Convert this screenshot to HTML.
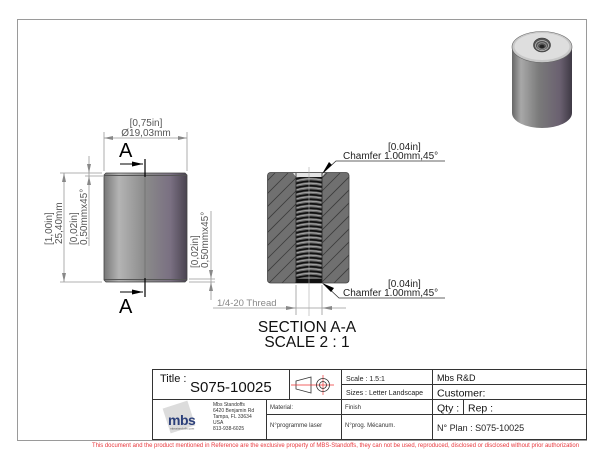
<!DOCTYPE html>
<html><head><meta charset="utf-8"><style>
html,body{margin:0;padding:0;background:#fff;width:600px;height:463px;overflow:hidden}
svg{display:block}
text{font-family:"Liberation Sans",sans-serif}
</style></head><body>
<svg width="600" height="463" viewBox="0 0 600 463" xmlns="http://www.w3.org/2000/svg">
<defs>
<linearGradient id="body" x1="0" y1="0" x2="1" y2="0">
<stop offset="0" stop-color="#777"/>
<stop offset="0.18" stop-color="#b4b4b4"/>
<stop offset="0.5" stop-color="#8a8a8a"/>
<stop offset="0.8" stop-color="#7a7082"/>
<stop offset="1" stop-color="#4a4450"/>
</linearGradient>
<linearGradient id="body3" x1="0" y1="0" x2="1" y2="0">
<stop offset="0" stop-color="#666"/>
<stop offset="0.15" stop-color="#a8a8a8"/>
<stop offset="0.45" stop-color="#7a7a7a"/>
<stop offset="0.8" stop-color="#6a6070"/>
<stop offset="1" stop-color="#3e3944"/>
</linearGradient>
<clipPath id="sec"><rect x="267.5" y="172.5" width="81.5" height="110.5" rx="3"/></clipPath>
</defs>

<rect x="17.5" y="19.5" width="569" height="421" fill="none" stroke="#9a9a9a" stroke-width="1"/>

<path d="M106,173 L185,173 L187,175 L187,280 L185,282 L106,282 L104,280 L104,175 Z" fill="url(#body)" stroke="#444" stroke-width="0.8"/>
<line x1="104.5" y1="175.5" x2="186.5" y2="175.5" stroke="#555" stroke-width="1"/>
<line x1="104.5" y1="279.5" x2="186.5" y2="279.5" stroke="#555" stroke-width="1"/>
<line x1="145" y1="176" x2="145" y2="279" stroke="#666" stroke-width="0.6"/>
<line x1="145" y1="159" x2="145" y2="177" stroke="#000" stroke-width="1.2"/>
<line x1="145" y1="278" x2="145" y2="297" stroke="#000" stroke-width="1.2"/>
<line x1="120" y1="164" x2="143" y2="164" stroke="#000" stroke-width="1"/>
<polygon points="143,164 132,161.5 132,166.5" fill="#000"/>
<line x1="120" y1="292" x2="143" y2="292" stroke="#000" stroke-width="1"/>
<polygon points="143,292 132,289.5 132,294.5" fill="#000"/>
<text x="119" y="157" font-size="20" fill="#000">A</text>
<text x="119" y="313" font-size="20" fill="#000">A</text>

<g stroke="#999" stroke-width="0.8" fill="none">
<line x1="104" y1="132" x2="104" y2="171"/>
<line x1="187" y1="132" x2="187" y2="171"/>
<line x1="104" y1="138" x2="187" y2="138"/>
<line x1="60" y1="173" x2="102" y2="173"/>
<line x1="60" y1="282" x2="102" y2="282"/>
<line x1="64" y1="173" x2="64" y2="282"/>
<line x1="85" y1="176" x2="103" y2="176"/>
<line x1="89" y1="156" x2="89" y2="246"/>
<line x1="189" y1="279" x2="215" y2="279"/>
<line x1="189" y1="282" x2="215" y2="282"/>
<line x1="211" y1="211" x2="211" y2="300"/>
<line x1="213" y1="308" x2="346" y2="308"/>
<line x1="296" y1="285" x2="296" y2="315"/>
<line x1="322" y1="285" x2="322" y2="315"/>
</g>
<g fill="#888">
<polygon points="104,138 113,136 113,140"/>
<polygon points="187,138 178,136 178,140"/>
<polygon points="64,173 62,182 66,182"/>
<polygon points="64,282 62,273 66,273"/>
<polygon points="89,173 87,164 91,164"/>
<polygon points="89,176 87,185 91,185"/>
<polygon points="211,279 209,270 213,270"/>
<polygon points="211,282 209,291 213,291"/>
<polygon points="296,308 286,306 286,310"/>
<polygon points="322,308 332,306 332,310"/>
</g>
<g fill="#555" font-size="10">
<text x="146" y="126" text-anchor="middle">[0,75in]</text>
<text x="146" y="136" text-anchor="middle">Ø19,03mm</text>
<text transform="translate(52,245) rotate(-90)">[1,00in]</text>
<text transform="translate(62,244) rotate(-90)">25,40mm</text>
<text transform="translate(77,245) rotate(-90)">[0,02in]</text>
<text transform="translate(87,245) rotate(-90)">0,50mmx45°</text>
<text transform="translate(198,268) rotate(-90)">[0,02in]</text>
<text transform="translate(208,268) rotate(-90)">0,50mmx45°</text>
</g>
<text x="217" y="306" font-size="9.5" fill="#888">1/4-20 Thread</text>

<rect x="267.5" y="172.5" width="81.5" height="110.5" rx="3" fill="#707070"/>
<g clip-path="url(#sec)" stroke="#3c3c3c" stroke-width="0.8">
<line x1="150" y1="285" x2="262" y2="173"/>
<line x1="163" y1="285" x2="275" y2="173"/>
<line x1="176" y1="285" x2="288" y2="173"/>
<line x1="189" y1="285" x2="301" y2="173"/>
<line x1="202" y1="285" x2="314" y2="173"/>
<line x1="215" y1="285" x2="327" y2="173"/>
<line x1="228" y1="285" x2="340" y2="173"/>
<line x1="241" y1="285" x2="353" y2="173"/>
<line x1="254" y1="285" x2="366" y2="173"/>
<line x1="267" y1="285" x2="379" y2="173"/>
<line x1="280" y1="285" x2="392" y2="173"/>
<line x1="293" y1="285" x2="405" y2="173"/>
<line x1="306" y1="285" x2="418" y2="173"/>
<line x1="319" y1="285" x2="431" y2="173"/>
<line x1="332" y1="285" x2="444" y2="173"/>
<line x1="345" y1="285" x2="457" y2="173"/>
</g>
<rect x="267.5" y="172.5" width="81.5" height="110.5" rx="3" fill="none" stroke="#444" stroke-width="0.8"/>
<rect x="296" y="173" width="26" height="110" fill="#6a6a6a"/>
<g stroke="#b0b0b0" stroke-width="0.8" fill="none">
<path d="M296,181 Q309,177 322,180"/>
<path d="M296,185.5 Q309,181.5 322,184.5"/>
<path d="M296,190 Q309,186 322,189"/>
<path d="M296,194.5 Q309,190.5 322,193.5"/>
<path d="M296,199 Q309,195 322,198"/>
<path d="M296,203.5 Q309,199.5 322,202.5"/>
<path d="M296,208 Q309,204 322,207"/>
<path d="M296,212.5 Q309,208.5 322,211.5"/>
<path d="M296,217 Q309,213 322,216"/>
<path d="M296,221.5 Q309,217.5 322,220.5"/>
<path d="M296,226 Q309,222 322,225"/>
<path d="M296,230.5 Q309,226.5 322,229.5"/>
<path d="M296,235 Q309,231 322,234"/>
<path d="M296,239.5 Q309,235.5 322,238.5"/>
<path d="M296,244 Q309,240 322,243"/>
<path d="M296,248.5 Q309,244.5 322,247.5"/>
<path d="M296,253 Q309,249 322,252"/>
<path d="M296,257.5 Q309,253.5 322,256.5"/>
<path d="M296,262 Q309,258 322,261"/>
<path d="M296,266.5 Q309,262.5 322,265.5"/>
<path d="M296,271 Q309,267 322,270"/>
<path d="M296,275.5 Q309,271.5 322,274.5"/>
</g>
<g stroke="#111" stroke-width="1.8" fill="none">
<path d="M296,179 Q309,175 322,178"/>
<path d="M296,183.5 Q309,179.5 322,182.5"/>
<path d="M296,188 Q309,184 322,187"/>
<path d="M296,192.5 Q309,188.5 322,191.5"/>
<path d="M296,197 Q309,193 322,196"/>
<path d="M296,201.5 Q309,197.5 322,200.5"/>
<path d="M296,206 Q309,202 322,205"/>
<path d="M296,210.5 Q309,206.5 322,209.5"/>
<path d="M296,215 Q309,211 322,214"/>
<path d="M296,219.5 Q309,215.5 322,218.5"/>
<path d="M296,224 Q309,220 322,223"/>
<path d="M296,228.5 Q309,224.5 322,227.5"/>
<path d="M296,233 Q309,229 322,232"/>
<path d="M296,237.5 Q309,233.5 322,236.5"/>
<path d="M296,242 Q309,238 322,241"/>
<path d="M296,246.5 Q309,242.5 322,245.5"/>
<path d="M296,251 Q309,247 322,250"/>
<path d="M296,255.5 Q309,251.5 322,254.5"/>
<path d="M296,260 Q309,256 322,259"/>
<path d="M296,264.5 Q309,260.5 322,263.5"/>
<path d="M296,269 Q309,265 322,268"/>
<path d="M296,273.5 Q309,269.5 322,272.5"/>
<path d="M296,278 Q309,274 322,277"/>
</g>
<polygon points="293,173 325,173 322,177 296,177" fill="#e4e4e4"/>
<rect x="296" y="279" width="26" height="4" fill="#111"/>
<line x1="296" y1="173" x2="296" y2="283" stroke="#222" stroke-width="0.8"/>
<line x1="322" y1="173" x2="322" y2="283" stroke="#222" stroke-width="0.8"/>
<line x1="309" y1="167" x2="309" y2="316" stroke="#aaa" stroke-width="0.6"/>

<g stroke="#333" stroke-width="0.8" fill="none">
<polyline points="324,172 336,161 445,161"/>
<polyline points="324,284 339,298 445,298"/>
</g>
<polygon points="322,174 332,165 329,162" fill="#000"/>
<polygon points="322,283 331,292 334,288" fill="#000"/>
<g fill="#222" font-size="10">
<text x="388" y="150">[0.04in]</text>
<text x="343" y="159">Chamfer 1.00mm,45°</text>
<text x="388" y="287">[0.04in]</text>
<text x="343" y="296">Chamfer 1.00mm,45°</text>
</g>

<text x="307" y="332" font-size="15.5" fill="#111" text-anchor="middle">SECTION A-A</text>
<text x="307" y="347" font-size="15.5" fill="#111" text-anchor="middle">SCALE 2 : 1</text>

<path d="M512,47 L512,113 A30,15 0 0 0 572,113 L572,47 Z" fill="url(#body3)"/>
<ellipse cx="542" cy="47" rx="30" ry="15.5" fill="#c8c8c8" stroke="#666" stroke-width="0.6"/>
<ellipse cx="542" cy="46.5" rx="27.5" ry="13.5" fill="#dedede"/>
<ellipse cx="542" cy="45" rx="8.5" ry="7" fill="#555" stroke="#333" stroke-width="0.6"/>
<ellipse cx="542" cy="45.5" rx="6.5" ry="5" fill="none" stroke="#bbb" stroke-width="0.8"/>
<ellipse cx="542" cy="46" rx="4.5" ry="3.3" fill="none" stroke="#999" stroke-width="0.8"/>
<ellipse cx="542" cy="46.5" rx="2.5" ry="1.8" fill="#222"/>

<g stroke="#333" stroke-width="1" fill="none">
<rect x="152.5" y="369.5" width="434" height="70"/>
<line x1="152.5" y1="399.5" x2="586.5" y2="399.5"/>
<line x1="289.5" y1="369.5" x2="289.5" y2="399.5"/>
<line x1="341.5" y1="369.5" x2="341.5" y2="439.5"/>
<line x1="432.5" y1="369.5" x2="432.5" y2="439.5"/>
<line x1="266.5" y1="399.5" x2="266.5" y2="439.5"/>
<line x1="341.5" y1="384.5" x2="586.5" y2="384.5"/>
<line x1="266.5" y1="414.5" x2="586.5" y2="414.5"/>
<line x1="463.5" y1="399.5" x2="463.5" y2="414.5"/>
</g>
<polygon points="296,381 311,377 311,393 296,389" fill="none" stroke="#333" stroke-width="0.8"/>
<g stroke="#e33" stroke-width="0.7">
<line x1="291" y1="385" x2="334" y2="385"/>
<line x1="323" y1="375" x2="323" y2="395"/>
</g>
<circle cx="323" cy="385" r="6.5" fill="none" stroke="#333" stroke-width="0.8"/>
<circle cx="323" cy="385" r="3.5" fill="none" stroke="#333" stroke-width="0.8"/>

<text x="160" y="382" font-size="11" fill="#111">Title :</text>
<text x="190" y="392" font-size="15" fill="#111">S075-10025</text>
<g fill="#222" font-size="7">
<text x="346" y="381">Scale : 1.5:1</text>
<text x="346" y="395">Sizes : Letter Landscape</text>
</g>
<text x="437" y="381" font-size="9" fill="#111">Mbs R&amp;D</text>
<text x="437" y="396.5" font-size="10.5" fill="#111">Customer:</text>
<text x="437" y="411.5" font-size="10.5" fill="#111">Qty :</text>
<text x="468" y="411.5" font-size="10.5" fill="#111">Rep :</text>
<text x="437" y="431" font-size="9" fill="#222">N° Plan : S075-10025</text>
<g fill="#333" font-size="6">
<text x="270" y="409">Material:</text>
<text x="345" y="409">Finish</text>
<text x="270" y="427">N°programme laser</text>
<text x="345" y="427">N°prog. Mécanum.</text>
</g>
<g fill="#333" font-size="5">
<text x="213" y="406">Mbs Standoffs</text>
<text x="213" y="412">6420 Benjamin Rd</text>
<text x="213" y="418">Tampa, FL 33634</text>
<text x="213" y="424">USA</text>
<text x="213" y="430">813-938-6025</text>
</g>
<rect x="166" y="404" width="26" height="26" fill="#dcdcdc" transform="rotate(-18 179 417)"/>
<text x="168" y="425" font-size="14" font-weight="bold" fill="#2b3f7a" letter-spacing="-0.5">mbs</text>
<text x="170" y="429.5" font-size="3" fill="#555">mbsstandoffs.com</text>

<text x="92" y="447" font-size="6" fill="#e8383d" textLength="487" lengthAdjust="spacingAndGlyphs">This document and the product mentioned in Reference are the exclusive property of MBS-Standoffs, they can not be used, reproduced, disclosed or disclosed without prior authorization</text>
</svg>
</body></html>
